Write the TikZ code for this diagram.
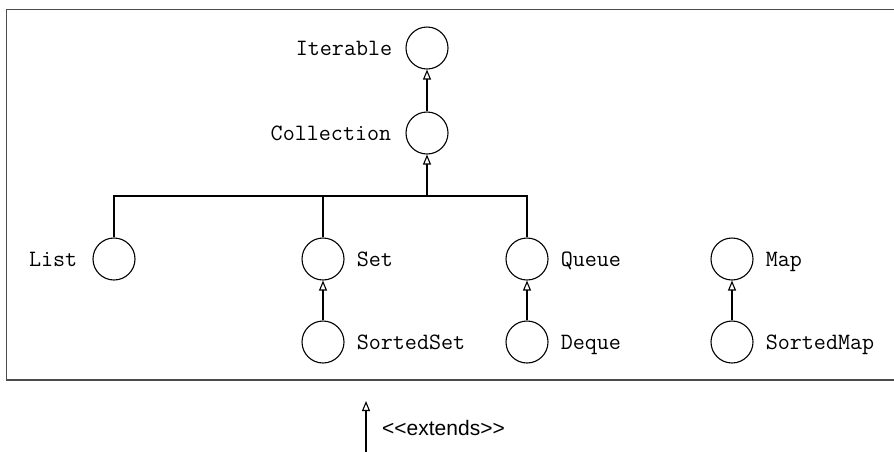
\documentclass[tikz,border=0pt]{standalone}
\usepackage{fontspec}
\setsansfont{Liberation Sans}
\usetikzlibrary{arrows.meta}
\begin{document}
\begin{tikzpicture}[x=1pt,y=-1pt,
  iface/.style={circle, draw, line width=1.1pt, minimum size=42pt, inner sep=0pt},
  lbl/.style={font=\ttfamily\fontsize{23.4}{26}\selectfont, inner sep=0pt, text height=14pt, text depth=0pt},
  ext/.style={line width=1.1pt, -{Triangle[open,length=10pt,width=8pt,line width=1.1pt]}},
  conn/.style={line width=1.1pt}]
\useasboundingbox (0,0) rectangle (894,451);
\draw[line width=1.8pt, black!70] (6.5,9.5) rectangle (910,380);
% interfaces
\node[iface] (iterable) at (427,48) {};
\node[iface] (collection) at (427,133) {};
\node[iface] (list) at (114,259) {};
\node[iface] (set) at (323,259) {};
\node[iface] (sortedset) at (323,342) {};
\node[iface] (queue) at (527,259) {};
\node[iface] (deque) at (527,342) {};
\node[iface] (map) at (732,259) {};
\node[iface] (sortedmap) at (732,342) {};
% labels
\node[lbl, anchor=east] (iterablel) at ([xshift=-13pt]iterable.west) {Iterable};
\node[lbl, anchor=east] (collectionl) at ([xshift=-14pt]collection.west) {Collection};
\node[lbl, anchor=east] (listl) at ([xshift=-15pt]list.west) {List};
\node[lbl, anchor=west] (setl) at ([xshift=12pt]set.east) {Set};
\node[lbl, anchor=west] (sortedsetl) at ([xshift=12pt]sortedset.east) {SortedSet};
\node[lbl, anchor=west] (queuel) at ([xshift=12pt]queue.east) {Queue};
\node[lbl, anchor=west] (dequel) at ([xshift=12pt]deque.east) {Deque};
\node[lbl, anchor=west] (mapl) at ([xshift=12pt]map.east) {Map};
\node[lbl, anchor=west] (sortedmapl) at ([xshift=12pt]sortedmap.east) {SortedMap};
% connectors
\coordinate (bar) at (427,196);
\draw[ext] (collection.north) -- (iterable.south);
\draw[ext] (bar) -- (collection.south);
\draw[conn] (list.north) -- (list.north |- bar) -- (queue.north |- bar) -- (queue.north);
\draw[conn] (set.north) -- (set.north |- bar);
\draw[ext] (sortedset.north) -- (set.south);
\draw[ext] (deque.north) -- (queue.south);
\draw[ext] (sortedmap.north) -- (map.south);
% legend
\coordinate (eb) at (366,452);
\coordinate (et) at (366,401);
\draw[ext] (eb) -- (et);
\node[font=\sffamily\fontsize{21}{25}\selectfont, inner sep=0pt, anchor=base west] (extl) at (382,435) {<\kern0pt<extends>\kern0pt>};
\end{tikzpicture}
\end{document}
